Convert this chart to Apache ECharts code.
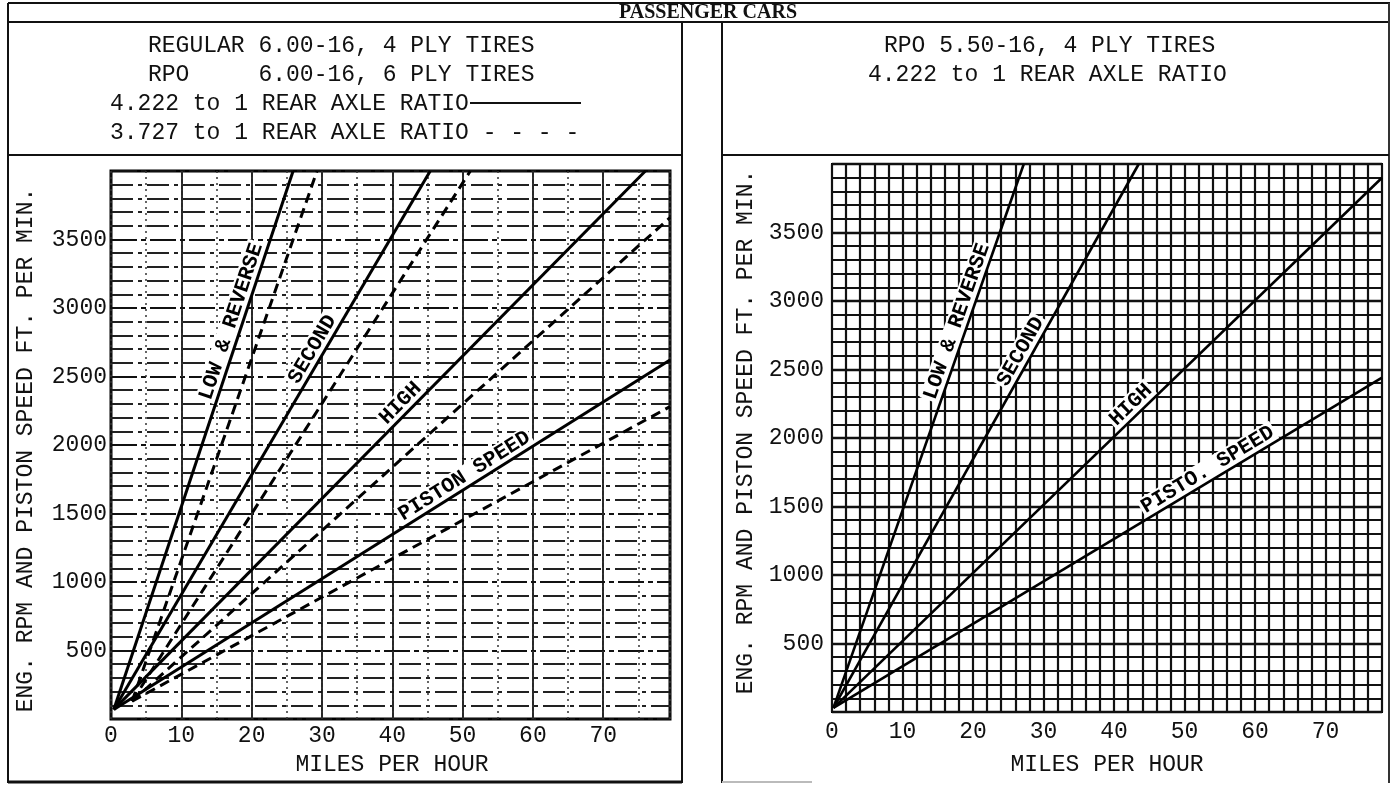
<!DOCTYPE html>
<html><head><meta charset="utf-8">
<script src="https://cdn.jsdelivr.net/npm/echarts@6/dist/echarts.min.js"></script>
<style>html,body{margin:0;padding:0;background:#fff}#c{width:1393px;height:785px}</style>
</head><body><div id="c"></div>
<script>
// ---------- DATA ----------
const xTickLabels = [0, 10, 20, 30, 40, 50, 60, 70];          // miles per hour
const yTickLabels = [500, 1000, 1500, 2000, 2500, 3000, 3500]; // rpm / ft per min
const leftXMax = 79.5, rightXMax = 78, yMax = 4000;

// Left chart: 6.00-16 tires. [mph, rpm]
const leftSolidLow    = [[0.4, 70], [25.9, 4000]];
const leftSolidSecond = [[0.4, 70], [45.4, 4000]];
const leftSolidHigh   = [[0.4, 70], [76.0, 4000]];
const leftSolidPiston = [[0.4, 70], [79.5, 2620]];
const leftDashLow     = [[3.0, 130], [29.3, 4000]];
const leftDashSecond  = [[3.0, 130], [51.1, 4000]];
const leftDashHigh    = [[3.0, 130], [79.5, 3660]];
const leftDashPiston  = [[3.0, 130], [79.5, 2280]];

// Right chart: 5.50-16 tires, 4.222 axle
const rightLow    = [[0.2, 30], [27.2, 4000]];
const rightSecond = [[0.2, 30], [43.5, 4000]];
const rightHigh   = [[0.2, 30], [78.0, 3900]];
const rightPiston = [[0.2, 30], [78.0, 2440]];

// Line captions: text, line it follows, rpm at caption centre
const leftCaptions  = [['LOW & REVERSE', 'lowS', 2876], ['SECOND', 'secS', 2657], ['HIGH', 'highS', 2248], ['PISTON SPEED', 'pisS', 1705]];
const rightCaptions = [['LOW & REVERSE', 'low', 2825], ['SECOND', 'sec', 2591], ['HIGH', 'high', 2183], ['PISTO. SPEED', 'pis', 1700]];

// ---------- CHART ----------
const MONO = '"Liberation Mono", "DejaVu Sans Mono", monospace';
const INK = '#111';
const FS = 23;
const chart = echarts.init(document.getElementById('c'), null, {renderer: 'canvas'});

const tickFmt = list => v => (list.indexOf(Math.round(v * 1000) / 1000) >= 0 ? String(v) : '');

function xAxisMain(grid, max, margin) {
  return {type: 'value', gridIndex: grid, min: 0, max: max, interval: 10,
    axisLine: {show: false}, axisTick: {show: false},
    axisLabel: {formatter: tickFmt(xTickLabels), margin: margin,
      fontFamily: MONO, fontSize: FS, color: INK},
    splitLine: {show: grid === 0, lineStyle: {color: INK, width: 1.8}}};
}
function xAxisMinor(grid, max, interval, ls) {
  return {type: 'value', gridIndex: grid, min: 0, max: max, interval: interval, show: true,
    axisLine: {show: false}, axisTick: {show: false}, axisLabel: {show: false},
    splitLine: {show: true, lineStyle: ls}};
}
function yAxis(grid, margin, major, minor) {
  return {type: 'value', gridIndex: grid, min: 0, max: yMax, interval: 500,
    axisLine: {show: false}, axisTick: {show: false},
    axisLabel: {formatter: tickFmt(yTickLabels), margin: margin,
      fontFamily: MONO, fontSize: FS, color: INK},
    splitLine: {show: true, lineStyle: major},
    minorTick: {show: false, splitNumber: 5},
    minorSplitLine: {show: true, lineStyle: minor}};
}
function lineSeries(id, data, xi, yi, dashed, w) {
  return {id: id, type: 'line', data: data, xAxisIndex: xi, yAxisIndex: yi, symbol: 'none', z: 5,
    silent: true, animation: false,
    lineStyle: {color: '#000', width: w, type: dashed ? [10, 6] : 'solid', cap: 'butt'}};
}

const lines = {
  lowS: lineSeries('lowS', leftSolidLow, 0, 0, false, 3),
  secS: lineSeries('secS', leftSolidSecond, 0, 0, false, 3),
  highS: lineSeries('highS', leftSolidHigh, 0, 0, false, 3),
  pisS: lineSeries('pisS', leftSolidPiston, 0, 0, false, 3),
  lowD: lineSeries('lowD', leftDashLow, 0, 0, true, 3),
  secD: lineSeries('secD', leftDashSecond, 0, 0, true, 3),
  highD: lineSeries('highD', leftDashHigh, 0, 0, true, 3),
  pisD: lineSeries('pisD', leftDashPiston, 0, 0, true, 3),
  low: lineSeries('low', rightLow, 2, 1, false, 2.6),
  sec: lineSeries('sec', rightSecond, 2, 1, false, 2.6),
  high: lineSeries('high', rightHigh, 2, 1, false, 2.6),
  pis: lineSeries('pis', rightPiston, 2, 1, false, 2.6)
};

function txt(text, x, y, extra, pos) {
  return Object.assign({type: 'text', silent: true, z: 10, style: Object.assign({text: text, x: x, y: y,
    font: FS + 'px ' + MONO, fill: INK, textAlign: 'left', textVerticalAlign: 'middle'}, extra || {})}, pos || {});
}
function ln(x1, y1, x2, y2, w, c) {
  return {type: 'line', silent: true, z: 10, shape: {x1: x1, y1: y1, x2: x2, y2: y2},
    style: {stroke: c || INK, lineWidth: w || 2}};
}

const graphics = [
  ln(8, 3, 1390, 3, 2), ln(8, 22, 1390, 22, 2),
  ln(8, 3, 8, 783, 2), ln(1389, 3, 1389, 783, 2, '#333'),
  ln(682, 22, 682, 783, 2), ln(722, 22, 722, 783, 2),
  ln(8, 155, 682, 155, 2), ln(722, 155, 1389, 155, 2),
  ln(8, 782, 682, 782, 3), ln(722, 782, 812, 782, 2, '#bbb'),
  {type: 'text', silent: true, z: 10, style: {text: 'PASSENGER CARS', x: 708, y: 13,
    font: 'bold 20px "Liberation Serif", serif', fill: INK, textAlign: 'center', textVerticalAlign: 'middle'}},
  txt('REGULAR 6.00-16, 4 PLY TIRES', 148, 45.5),
  txt('RPO     6.00-16, 6 PLY TIRES', 148, 74.5),
  txt('4.222 to 1 REAR AXLE RATIO', 110, 103.5),
  ln(470, 103, 581, 103, 2),
  txt('3.727 to 1 REAR AXLE RATIO - - - -', 110, 132.5),
  txt('RPO 5.50-16, 4 PLY TIRES', 884, 45.5),
  txt('4.222 to 1 REAR AXLE RATIO', 868, 74.5),
  txt('ENG. RPM AND PISTON SPEED FT. PER MIN.', 0, 0, {textAlign: 'center'}, {x: 26, y: 450, rotation: Math.PI / 2}),
  txt('ENG. RPM AND PISTON SPEED FT. PER MIN.', 0, 0, {textAlign: 'center'}, {x: 746, y: 432, rotation: Math.PI / 2}),
  txt('MILES PER HOUR', 392, 765, {textAlign: 'center'}),
  txt('MILES PER HOUR', 1107, 765, {textAlign: 'center'})
];

const option = {
  animation: false,
  backgroundColor: '#fff',
  grid: [
    {left: 111, top: 171, width: 559, height: 548, show: true, borderColor: '#000', borderWidth: 3, backgroundColor: '#fff', z: 0},
    {left: 832, top: 164, width: 550, height: 548, show: true, borderColor: '#000', borderWidth: 2, backgroundColor: '#fff', z: 0}
  ],
  xAxis: [
    xAxisMain(0, leftXMax, 5),
    xAxisMinor(0, leftXMax, 5, {color: '#333', width: 1.5, type: [2, 4]}),
    xAxisMain(1, rightXMax, 8),
    xAxisMinor(1, rightXMax, 2, {color: INK, width: 2.2})
  ],
  yAxis: [
    yAxis(0, 4, {color: INK, width: 2, type: [26, 4, 5, 4]}, {color: '#222', width: 1.8, type: [22, 5, 4, 5]}),
    yAxis(1, 8, {color: INK, width: 2.4}, {color: INK, width: 2.2})
  ],
  graphic: graphics,
  series: Object.values(lines)
};
chart.setOption(option);

// captions: centred beside the line (upper-left side), rotated to its on-screen angle
function captionSeries(caps, grid, xi, yi) {
  const data = caps.map(([text, key, rpm]) => {
    const [a, b] = lines[key].data;
    const t = (rpm - a[1]) / (b[1] - a[1]);
    const p = [a[0] + t * (b[0] - a[0]), rpm];
    const pa = chart.convertToPixel({gridIndex: grid}, a);
    const pb = chart.convertToPixel({gridIndex: grid}, b);
    const pp = chart.convertToPixel({gridIndex: grid}, p);
    const ang = Math.atan2(-(pb[1] - pa[1]), pb[0] - pa[0]);
    const d = 11;
    const q = chart.convertFromPixel({gridIndex: grid}, [pp[0] - Math.sin(ang) * d, pp[1] - Math.cos(ang) * d]);
    return {value: q, name: text, label: {rotate: ang * 180 / Math.PI}};
  });
  return {type: 'scatter', xAxisIndex: xi, yAxisIndex: yi, data: data, symbolSize: 1, z: 3,
    itemStyle: {color: '#fff'}, silent: true, animation: false,
    label: {show: true, position: 'inside', formatter: '{b}', fontFamily: MONO, fontSize: 21,
      fontWeight: 'bold', color: '#000', opacity: 1, textBorderWidth: 0, textBorderColor: 'transparent',
      textShadowBlur: 0, backgroundColor: '#fff', padding: [0, 2]},
    emphasis: {disabled: true}};
}
chart.setOption({series: Object.values(lines).concat([
  captionSeries(leftCaptions, 0, 0, 0),
  captionSeries(rightCaptions, 1, 2, 1)
])});
</script></body></html>
